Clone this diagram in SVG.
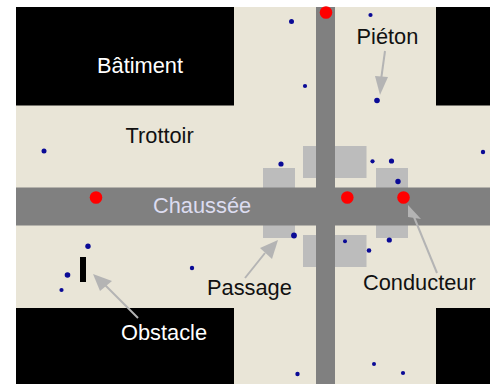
<svg xmlns="http://www.w3.org/2000/svg" width="490" height="384" viewBox="0 0 490 384">
<style>
text{font-family:"Liberation Sans",Arial,sans-serif;font-size:21.8px;fill:#111}
.b{fill:#000}
.r{fill:#808080}
.p{fill:#bcbcbc}
.d{fill:#0a0a96}
.c{fill:#f00}
.a{stroke:#b4b4b4;stroke-width:2;fill:none}
.h{fill:#b4b4b4}
</style>
<rect width="490" height="384" fill="#fff"/>
<rect x="16" y="7" width="474" height="377" fill="#e9e5d7"/>
<g id="buildings">
<rect class="b" x="16" y="7" width="218" height="98.500"/>
<rect class="b" x="436" y="7" width="54" height="98.500"/>
<rect class="b" x="16" y="308" width="218" height="76"/>
<rect class="b" x="436" y="308" width="54" height="76"/>
</g>
<g id="crossings">
<rect class="p" x="263" y="168" width="32" height="70"/>
<rect class="p" x="376" y="168" width="32" height="70"/>
<rect class="p" x="303" y="146" width="63.500" height="32"/>
<rect class="p" x="303" y="235" width="63.500" height="32"/>
</g>
<g id="roads">
<rect class="r" x="16" y="187.500" width="474" height="38"/>
<rect class="r" x="316" y="7" width="19" height="377"/>
</g>
<g id="obstacle"><rect x="80" y="257" width="6" height="25" fill="#000"/></g>
<g id="pedestrians">
<circle class="d" cx="291.500" cy="21.500" r="2.500"/>
<circle class="d" cx="370.500" cy="15" r="2.100"/>
<circle class="d" cx="305" cy="86" r="2.100"/>
<circle class="d" cx="377" cy="100.500" r="2.800"/>
<circle class="d" cx="44" cy="151" r="2.500"/>
<circle class="d" cx="281" cy="164" r="2.600"/>
<circle class="d" cx="372.500" cy="161.300" r="2.100"/>
<circle class="d" cx="391.500" cy="161" r="2.600"/>
<circle class="d" cx="398" cy="181.500" r="2.700"/>
<circle class="d" cx="294" cy="235.500" r="2.900"/>
<circle class="d" cx="345" cy="241.300" r="2"/>
<circle class="d" cx="369" cy="250.500" r="2.300"/>
<circle class="d" cx="389.300" cy="240" r="2.600"/>
<circle class="d" cx="483" cy="152" r="2.200"/>
<circle class="d" cx="88" cy="246.300" r="2.700"/>
<circle class="d" cx="67.500" cy="275" r="2.800"/>
<circle class="d" cx="61.500" cy="290" r="2.100"/>
<circle class="d" cx="192" cy="268" r="2.200"/>
<circle class="d" cx="297.500" cy="374" r="2.200"/>
<circle class="d" cx="374" cy="364" r="2"/>
<circle class="d" cx="403" cy="373" r="2.100"/>
</g>
<g id="drivers">
<circle class="c" cx="326" cy="12.500" r="6.300"/>
<circle class="c" cx="96" cy="197.500" r="6.300"/>
<circle class="c" cx="347.300" cy="197.500" r="6.300"/>
<circle class="c" cx="403.500" cy="197.500" r="6.300"/>
</g>
<g id="connectors">
<path class="a" d="M385 51L381 80"/>
<polygon class="h" points="380,95 375,76 388,77"/>
<path class="a" d="M245 278L265 253"/>
<polygon class="h" points="278,240 260,248 272,259"/>
<path class="a" d="M138 318L105 285"/>
<polygon class="h" points="93,274 112,281 100,291"/>
<path class="a" d="M437 273L414 217"/>
<polygon class="h" points="408,205 408,217 421,219"/>
</g>
<g id="labels">
<text x="97" y="73" style="fill:#fff">Bâtiment</text>
<text x="125.500" y="143">Trottoir</text>
<text x="153" y="213" style="fill:#dcdcf0">Chaussée</text>
<text x="356.500" y="44">Piéton</text>
<text x="363" y="290">Conducteur</text>
<text x="207" y="295">Passage</text>
<text x="121" y="340" style="fill:#fff">Obstacle</text>
</g>
</svg>
